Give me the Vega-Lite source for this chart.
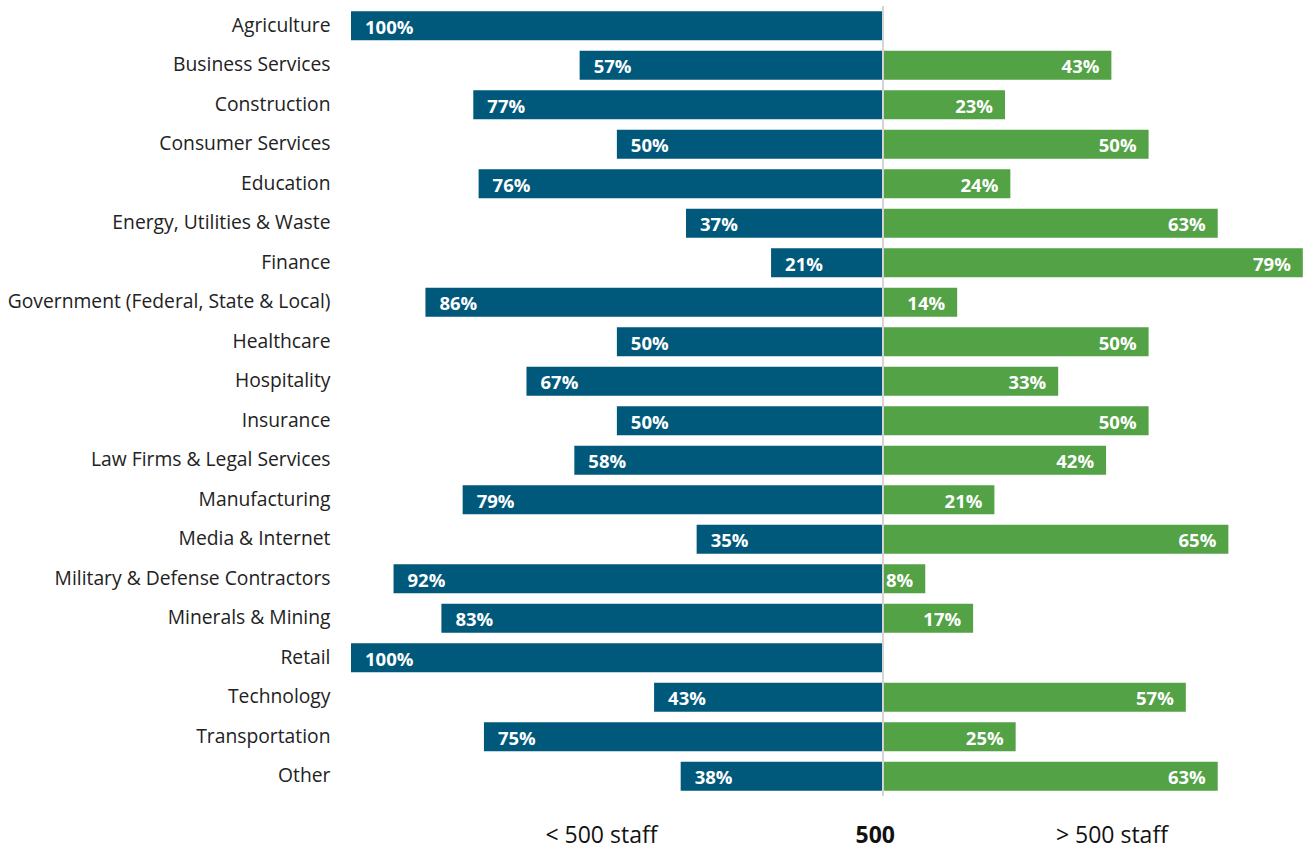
{
  "$schema": "https://vega.github.io/schema/vega-lite/v6.json",
  "width": 955,
  "height": 790,
  "autosize": {"type": "none"},
  "padding": {"left": 351, "top": 6, "right": 1, "bottom": 53},
  "background": "white",
  "config": {"font": "Open Sans", "view": {"stroke": null}},
  "data": {
    "values": [
      {"category": "Agriculture", "group": "lt", "pct": 100},
      {"category": "Agriculture", "group": "gt", "pct": 0},
      {"category": "Business Services", "group": "lt", "pct": 57},
      {"category": "Business Services", "group": "gt", "pct": 43},
      {"category": "Construction", "group": "lt", "pct": 77},
      {"category": "Construction", "group": "gt", "pct": 23},
      {"category": "Consumer Services", "group": "lt", "pct": 50},
      {"category": "Consumer Services", "group": "gt", "pct": 50},
      {"category": "Education", "group": "lt", "pct": 76},
      {"category": "Education", "group": "gt", "pct": 24},
      {"category": "Energy, Utilities & Waste", "group": "lt", "pct": 37},
      {"category": "Energy, Utilities & Waste", "group": "gt", "pct": 63},
      {"category": "Finance", "group": "lt", "pct": 21},
      {"category": "Finance", "group": "gt", "pct": 79},
      {"category": "Government (Federal, State & Local)", "group": "lt", "pct": 86},
      {"category": "Government (Federal, State & Local)", "group": "gt", "pct": 14},
      {"category": "Healthcare", "group": "lt", "pct": 50},
      {"category": "Healthcare", "group": "gt", "pct": 50},
      {"category": "Hospitality", "group": "lt", "pct": 67},
      {"category": "Hospitality", "group": "gt", "pct": 33},
      {"category": "Insurance", "group": "lt", "pct": 50},
      {"category": "Insurance", "group": "gt", "pct": 50},
      {"category": "Law Firms & Legal Services", "group": "lt", "pct": 58},
      {"category": "Law Firms & Legal Services", "group": "gt", "pct": 42},
      {"category": "Manufacturing", "group": "lt", "pct": 79},
      {"category": "Manufacturing", "group": "gt", "pct": 21},
      {"category": "Media & Internet", "group": "lt", "pct": 35},
      {"category": "Media & Internet", "group": "gt", "pct": 65},
      {"category": "Military & Defense Contractors", "group": "lt", "pct": 92},
      {"category": "Military & Defense Contractors", "group": "gt", "pct": 8},
      {"category": "Minerals & Mining", "group": "lt", "pct": 83},
      {"category": "Minerals & Mining", "group": "gt", "pct": 17},
      {"category": "Retail", "group": "lt", "pct": 100},
      {"category": "Retail", "group": "gt", "pct": 0},
      {"category": "Technology", "group": "lt", "pct": 43},
      {"category": "Technology", "group": "gt", "pct": 57},
      {"category": "Transportation", "group": "lt", "pct": 75},
      {"category": "Transportation", "group": "gt", "pct": 25},
      {"category": "Other", "group": "lt", "pct": 38},
      {"category": "Other", "group": "gt", "pct": 63}
    ]
  },
  "transform": [
    {"calculate": "datum.group == 'lt' ? -datum.pct : datum.pct", "as": "signed"},
    {"calculate": "datum.pct + '%'", "as": "label"}
  ],
  "encoding": {
    "y": {
      "field": "category",
      "type": "nominal",
      "sort": null,
      "scale": {"paddingInner": 0.27, "paddingOuter": 0.135},
      "axis": {
        "title": null,
        "ticks": false,
        "domain": false,
        "labelFontSize": 19.3,
        "labelColor": "#222222",
        "labelPadding": 21,
        "labelLimit": 400
      }
    }
  },
  "layer": [
    {
      "transform": [{"filter": "datum.pct > 0"}],
      "mark": {"type": "bar"},
      "encoding": {
        "x": {
          "field": "signed",
          "type": "quantitative",
          "scale": {"domain": [-100, 79.6], "nice": false, "zero": false},
          "axis": {
            "title": null,
            "grid": false,
            "domain": false,
            "ticks": false,
            "values": [-53, -1.5, 43],
            "labelExpr": "datum.value < -10 ? '< 500 staff' : (datum.value > 10 ? '> 500 staff' : '500')",
            "labelFontSize": 23,
            "labelColor": "#111111",
            "labelPadding": 28,
            "labelFontWeight": {"condition": {"test": "datum.value > -10 && datum.value < 10", "value": "bold"}, "value": "normal"}
          }
        },
        "x2": {"datum": 0},
        "color": {
          "field": "group",
          "type": "nominal",
          "scale": {"domain": ["lt", "gt"], "range": ["#00597b", "#53a246"]},
          "legend": null
        }
      }
    },
    {
      "mark": {"type": "rule", "color": "#d4d4d4", "strokeWidth": 1},
      "encoding": {"x": {"datum": 0}, "y": null}
    },
    {
      "transform": [{"filter": "datum.group == 'lt' && datum.pct > 0"}],
      "mark": {"type": "text", "align": "left", "dx": 14, "fontWeight": "bold", "fontSize": 18.5, "color": "white", "baseline": "middle", "dy": 2},
      "encoding": {
        "x": {"field": "signed", "type": "quantitative"},
        "text": {"field": "label"}
      }
    },
    {
      "transform": [{"filter": "datum.group == 'gt' && datum.pct > 0"}],
      "mark": {"type": "text", "align": "right", "dx": -12, "fontWeight": "bold", "fontSize": 18.5, "color": "white", "baseline": "middle", "dy": 2},
      "encoding": {
        "x": {"field": "signed", "type": "quantitative"},
        "text": {"field": "label"}
      }
    }
  ]
}
